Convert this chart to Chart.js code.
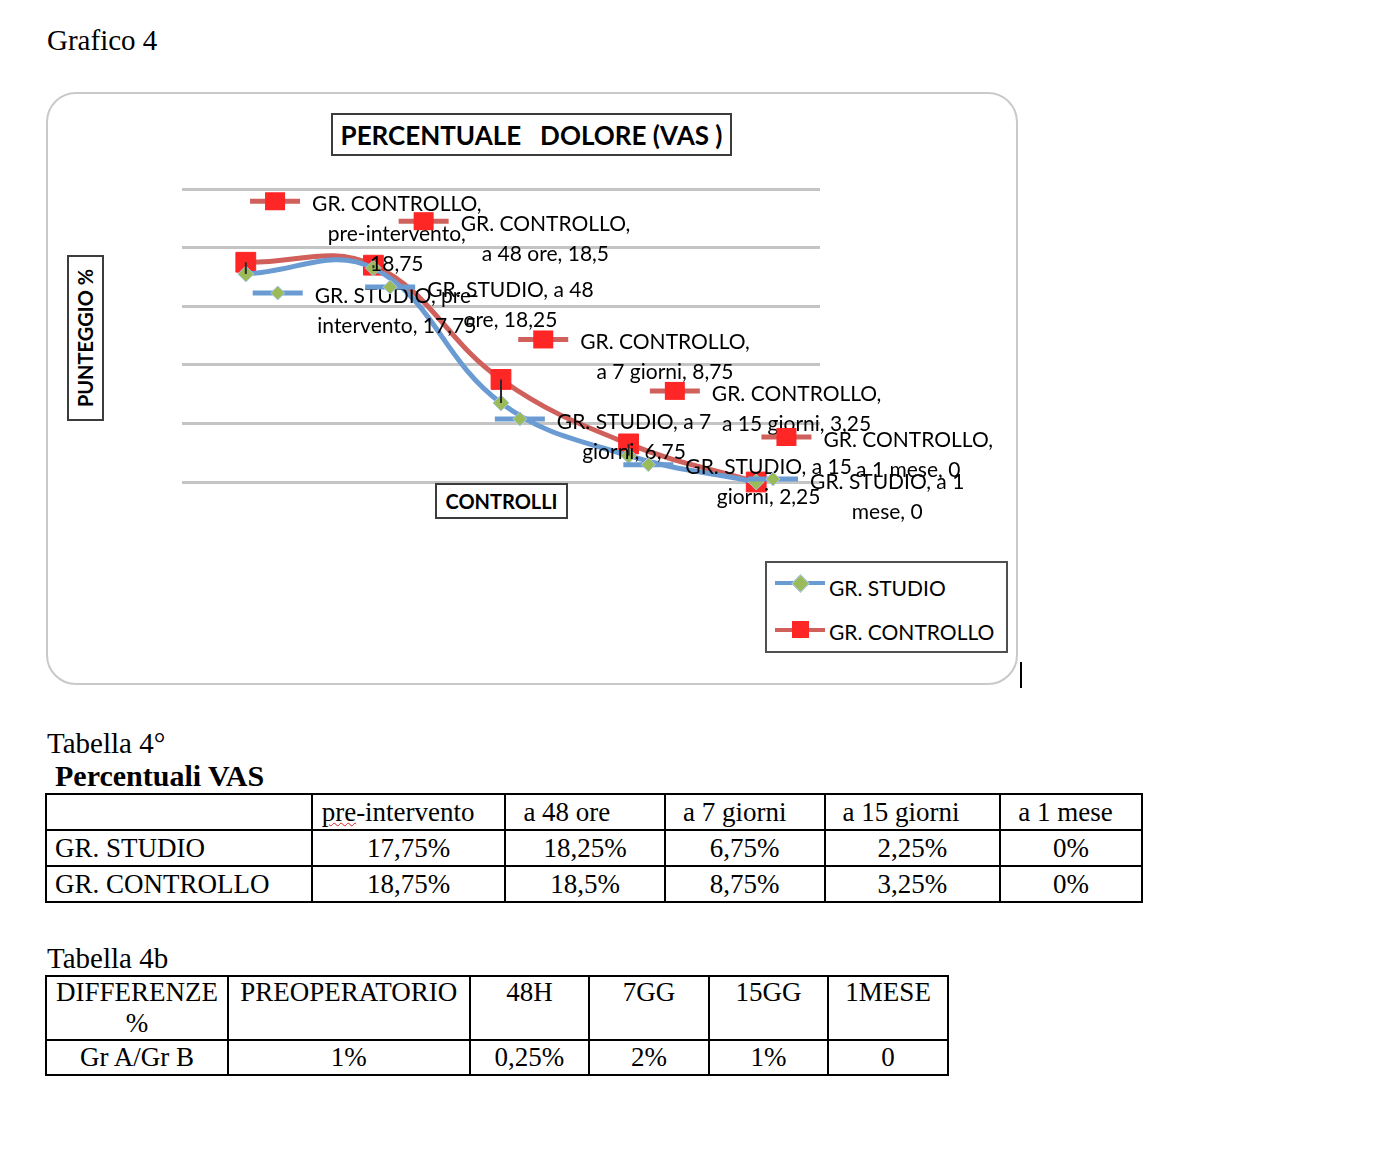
<!DOCTYPE html>
<html lang="it">
<head>
<meta charset="UTF-8">
<title>Grafico 4</title>
<style>
  body { margin: 0; background: #fff; font-family: 'Liberation Serif', 'Times New Roman', serif; color: #000; }
  .abs { position: absolute; }
  .doc { font-size: 29px; line-height: 32px; white-space: nowrap; }
  #frame { left: 46px; top: 92px; width: 972px; height: 593px; box-sizing: border-box;
           border: 2px solid #c9c9c9; border-radius: 30px; }
  #chart { left: 46px; top: 92px; }
  .box { box-sizing: border-box; border: 2px solid #3c3c3c; background: #fff;
         font-family: Lato, 'Noto Sans', sans-serif; font-weight: bold; color: #000;
         display: flex; align-items: center; justify-content: center; white-space: pre; }
  #title { left: 331px; top: 113px; width: 401px; height: 43px; font-size: 26px; }
  #ytitle { left: 67px; top: 255px; width: 37px; height: 166px; font-size: 20px; }
  #ytitle span { display: inline-block; transform: rotate(-90deg); }
  #xtitle { left: 435px; top: 483px; width: 133px; height: 36px; font-size: 20px; }
  #legend { left: 765px; top: 561px; width: 243px; height: 92px; box-sizing: border-box;
            border: 2px solid #505050; background: #fff; font-family: Lato, 'Noto Sans', sans-serif; font-size: 21px; }
  #legend .t { position: absolute; left: 62px; line-height: 24px; white-space: nowrap; }
  #legend .ln { position: absolute; left: 8px; width: 50px; height: 4px; }
  #legend .mk { position: absolute; }
  #cursor { left: 1020px; top: 662px; width: 2px; height: 26px; background: #000; }
  table { position: absolute; border-collapse: collapse; font-size: 27px; }
  td { border: 2px solid #000; padding: 0; white-space: nowrap; }
  #t1 td { height: 34px; line-height: 32px; text-align: center; }
  #t1 tr.h td { text-align: left; padding-left: 17px; }
  #t1 td.n { text-align: left; padding-left: 8px; }
  #t2 td { text-align: center; line-height: 31px; }
  #t2 tr.h td { height: 60px; vertical-align: top; white-space: normal; }
  #t2 tr.d td { height: 33px; }
  .spell { text-decoration: underline wavy #e02020; text-decoration-thickness: 1px; }
</style>
</head>
<body>
  <div class="abs doc" style="left:47px; top:24px;">Grafico 4</div>

  <div id="frame" class="abs"></div>
  <canvas id="chart" class="abs" width="972" height="593"></canvas>
  <div id="title" class="abs box">PERCENTUALE   DOLORE (VAS )</div>
  <div id="ytitle" class="abs box"><span>PUNTEGGIO %</span></div>
  <div id="xtitle" class="abs box">CONTROLLI</div>
  <div id="legend" class="abs">
    <span class="ln" style="top:18px; background:#6a9bd2;"></span>
    <span class="mk" style="left:27px; top:14px; width:11px; height:11px; background:#9bbb59; border:1px solid #a9c6e6; transform:rotate(45deg);"></span>
    <span class="t" style="top:13px;">GR. STUDIO</span>
    <span class="ln" style="top:65px; background:#d0605b;"></span>
    <span class="mk" style="left:25px; top:58px; width:17px; height:17px; background:#ff2626;"></span>
    <span class="t" style="top:57px;">GR. CONTROLLO</span>
  </div>
  <div id="cursor" class="abs"></div>

  <div class="abs doc" style="left:47px; top:727px;">Tabella 4°</div>
  <div class="abs doc" style="left:55px; top:760px; font-weight:bold; font-size:30px;">Percentuali VAS</div>
  <table id="t1" style="left:45px; top:793px; width:1098px;">
    <colgroup><col style="width:266px"><col style="width:194px"><col style="width:160px"><col style="width:160px"><col style="width:176px"><col style="width:142px"></colgroup>
    <tbody></tbody>
  </table>

  <div class="abs doc" style="left:47px; top:942px;">Tabella 4b</div>
  <table id="t2" style="left:45px; top:975px; width:904px;">
    <colgroup><col style="width:182px"><col style="width:242px"><col style="width:120px"><col style="width:120px"><col style="width:120px"><col style="width:120px"></colgroup>
    <tbody></tbody>
  </table>

<script src="https://cdn.jsdelivr.net/npm/chart.js@4.4.1/dist/chart.umd.min.js"></script>
<script>
const categories = ['pre-intervento', 'a 48 ore', 'a 7 giorni', 'a 15 giorni', 'a 1 mese']
const seriesNames = ['GR. STUDIO', 'GR. CONTROLLO']
const studioValues = [17.75, 18.25, 6.75, 2.25, 0]
const controlloValues = [18.75, 18.5, 8.75, 3.25, 0]
const yTicks = [0, 5, 10, 15, 20, 25]

// tabella 4b
const diffHeaders = ['DIFFERENZE %', 'PREOPERATORIO', '48H', '7GG', '15GG', '1MESE']
const diffRowName = 'Gr A/Gr B'
const diffValues = ['1%', '0,25%', '2%', '1%', '0']

const blue = '#6a9bd2'
const red = '#d0605b'

const fmt = v => String(v).replace('.', ',')

// tables
const t1 = document.querySelector('#t1 tbody')
let html = '<tr class="h"><td></td>' + categories.map((c, i) =>
  '<td' + (i === 0 ? ' style="padding-left:9px"' : '') + '>' +
  (i === 0 ? '<span class="spell">pre</span>-intervento' : c) + '</td>').join('') + '</tr>'
html += '<tr><td class="n">' + seriesNames[0] + '</td>' + studioValues.map(v => '<td>' + fmt(v) + '%</td>').join('') + '</tr>'
html += '<tr><td class="n">' + seriesNames[1] + '</td>' + controlloValues.map(v => '<td>' + fmt(v) + '%</td>').join('') + '</tr>'
t1.innerHTML = html

const t2 = document.querySelector('#t2 tbody')
t2.innerHTML = '<tr class="h">' + diffHeaders.map(h => '<td>' + h + '</td>').join('') + '</tr>' +
  '<tr class="d"><td>' + diffRowName + '</td>' + diffValues.map(v => '<td>' + v + '</td>').join('') + '</tr>'

// data label placement, offsets from each point (centre of text block, first line)
const labelOffsets = [
  [[151, 22], [137, 22], [133, 19], [140, 12], [131, 0]],
  [[151, -58], [172, -41], [164, -37], [168, -50], [152, -42]]
]
const wrapWidths = [181, 181]

function wrapText(ctx, text, maxW) {
  const pieces = []
  text.split(' ').forEach((w, i) => {
    w.split(/(?<=-)/).forEach((s, j) => pieces.push({ t: s, sp: i > 0 && j === 0 }))
  })
  const lines = []
  let cur = ''
  pieces.forEach(p => {
    const cand = cur ? cur + (p.sp ? ' ' : '') + p.t : p.t
    if (cur && ctx.measureText(cand).width > maxW) {
      lines.push(cur)
      cur = p.t
    } else {
      cur = cand
    }
  })
  if (cur) lines.push(cur)
  return lines
}

function drawKey(ctx, di, x, y) {
  ctx.save()
  ctx.lineWidth = 5
  ctx.strokeStyle = di === 0 ? blue : red
  ctx.beginPath()
  ctx.moveTo(x - 25, y)
  ctx.lineTo(x + 25, y)
  ctx.stroke()
  if (di === 0) {
    ctx.fillStyle = '#9bbb59'
    ctx.strokeStyle = '#a9c6e6'
    ctx.lineWidth = 1
    ctx.beginPath()
    ctx.moveTo(x - 7, y); ctx.lineTo(x, y - 7); ctx.lineTo(x + 7, y); ctx.lineTo(x, y + 7)
    ctx.closePath()
    ctx.fill()
    ctx.stroke()
  } else {
    ctx.fillStyle = '#ff2626'
    ctx.fillRect(x - 10, y - 9, 20, 18)
  }
  ctx.restore()
}

const labelsPlugin = {
  id: 'excelLabels',
  afterDatasetsDraw(chart) {
    const ctx = chart.ctx
    const m0 = chart.getDatasetMeta(0).data
    const m1 = chart.getDatasetMeta(1).data
    // high-low lines
    ctx.save()
    ctx.strokeStyle = '#2a2a2a'
    ctx.lineWidth = 2
    m0.forEach((p, i) => {
      ctx.beginPath()
      ctx.moveTo(p.x, m1[i].y)
      ctx.lineTo(p.x, p.y)
      ctx.stroke()
    })
    ctx.restore()

    ctx.save()
    ctx.font = '21px Lato, "Noto Sans", sans-serif'
    ctx.fillStyle = '#000'
    ctx.textAlign = 'center'
    ctx.textBaseline = 'middle'
    ;[1, 0].forEach(di => {
      const pts = chart.getDatasetMeta(di).data
      const vals = chart.data.datasets[di].data
      pts.forEach((p, i) => {
        const text = seriesNames[di] + ', ' + categories[i] + ', ' + fmt(vals[i])
        const lines = wrapText(ctx, text, wrapWidths[di])
        const cx = p.x + labelOffsets[di][i][0]
        const y0 = p.y + labelOffsets[di][i][1]
        const w1 = ctx.measureText(lines[0]).width
        drawKey(ctx, di, cx - w1 / 2 - 37, y0 - 3)
        lines.forEach((ln, k) => ctx.fillText(ln, cx, y0 + k * 30))
      })
    })
    ctx.restore()
  }
}

new Chart(document.getElementById('chart'), {
  type: 'line',
  data: {
    labels: categories,
    datasets: [{
      label: seriesNames[0],
      data: studioValues,
      borderColor: blue,
      borderWidth: 5,
      tension: 0.4,
      pointStyle: 'rectRot',
      pointRadius: 8,
      pointBackgroundColor: '#9bbb59',
      pointBorderColor: '#a9c6e6',
      pointBorderWidth: 1,
      clip: false
    }, {
      label: seriesNames[1],
      data: controlloValues,
      borderColor: red,
      borderWidth: 5,
      tension: 0.4,
      pointStyle: 'rect',
      pointRadius: 14,
      pointBackgroundColor: '#ff2626',
      pointBorderColor: '#ff2626',
      pointBorderWidth: 1,
      clip: false
    }]
  },
  options: {
    responsive: false,
    animation: false,
    layout: { padding: { left: 136, right: 198, top: 97, bottom: 203 } },
    plugins: {
      legend: { display: false },
      tooltip: { enabled: false },
      title: { display: false }
    },
    scales: {
      x: { type: 'category', offset: true, display: false },
      y: {
        min: yTicks[0],
        max: yTicks[yTicks.length - 1],
        afterBuildTicks: axis => { axis.ticks = yTicks.map(v => ({ value: v })) },
        ticks: { display: false },
        border: { display: false },
        grid: { color: '#c4c4c4', lineWidth: 3, drawTicks: false }
      }
    }
  },
  plugins: [labelsPlugin]
})
</script>
</body>
</html>
